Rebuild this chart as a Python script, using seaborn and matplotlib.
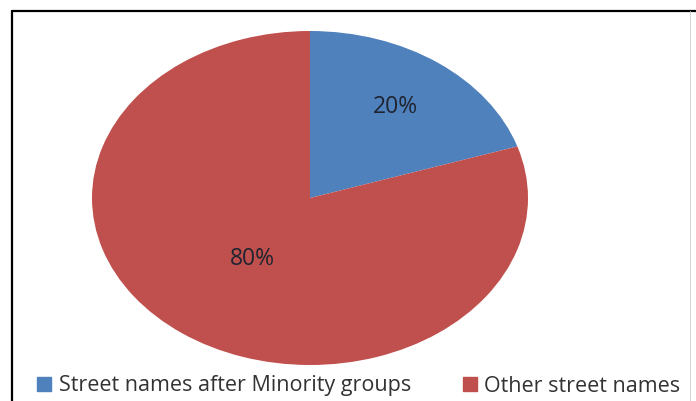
import matplotlib
matplotlib.use("Agg")
import matplotlib.pyplot as plt
import seaborn as sns
import numpy as np
from matplotlib.lines import Line2D

categories = ["Street names after Minority groups", "Other street names"]
values = [20, 80]
pct_labels = ["20%", "80%"]

sns.set_theme(style="white")
plt.rcParams['font.family'] = ['Open Sans', 'DejaVu Sans']

colors = ["#4F81BD", "#C0504D"]

W, H = 696, 401
fig = plt.figure(figsize=(W / 100, H / 100), dpi=100)
fig.patch.set_facecolor("white")

# pie axes (elliptical pie)
left, right, top, bottom = 92, 528, 31, 365
ax = fig.add_axes([left / W, (H - bottom) / H, (right - left) / W, (bottom - top) / H])
wedges, _ = ax.pie(values, colors=colors, startangle=90, counterclock=False,
                   radius=1.0, wedgeprops=dict(linewidth=0))
ax.set_aspect("auto")
ax.set_xlim(-1, 1)
ax.set_ylim(-1, 1)
ax.axis("off")

dists = [0.67, 0.45]
for w, lab, d in zip(wedges, pct_labels, dists):
    ang = np.deg2rad((w.theta1 + w.theta2) / 2)
    ax.text(d * np.cos(ang), d * np.sin(ang), lab, ha="center", va="center",
            fontsize=16.5, color="#1f2430")

# legend
handles = [Line2D([0], [0], marker="s", linestyle="none", markersize=10,
                  markerfacecolor=c, markeredgecolor=c) for c in colors]
fig.legend(handles, categories, loc="center left", bbox_to_anchor=(36 / W, 1 - 386 / H),
           ncol=2, frameon=False, fontsize=15.5, handlelength=0.75, handletextpad=0.3,
           columnspacing=2.35, labelcolor="#333333", borderaxespad=0, borderpad=0)

# frame: top, left, right
fig.add_artist(Line2D([11.5 / W, 11.5 / W], [0, 1 - 11 / H], color="black", lw=1.6,
                      transform=fig.transFigure))
fig.add_artist(Line2D([11.5 / W, 1], [1 - 11 / H, 1 - 11 / H], color="black", lw=1.6,
                      transform=fig.transFigure))
fig.add_artist(Line2D([690 / W, 690 / W], [0, 1 - 11 / H], color="#cccccc", lw=0.6,
                      transform=fig.transFigure))

fig.savefig("out.png", dpi=100, facecolor="white")
